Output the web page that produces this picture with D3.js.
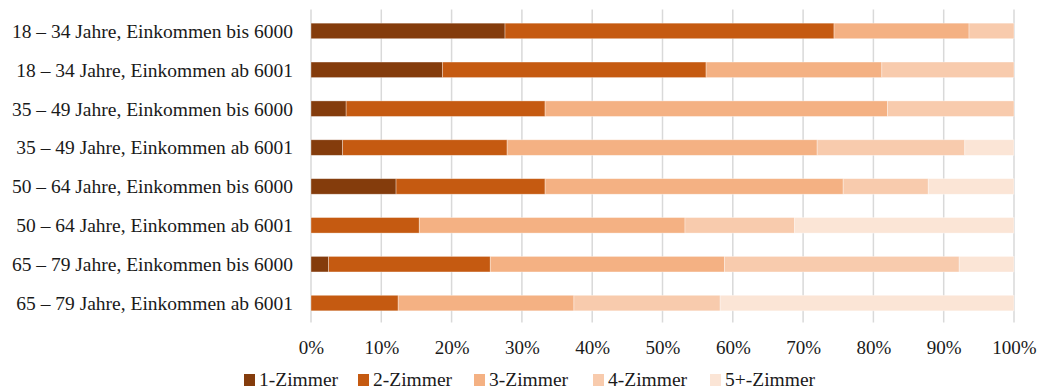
<!DOCTYPE html>
<html>
<head>
<meta charset="utf-8">
<script src="https://cdn.jsdelivr.net/npm/d3@7"></script>
<style>
  body { margin: 0; background: #fff; }
  svg text { font-family: "Liberation Serif", "Times New Roman", serif; fill: #1a1a1a; }
</style>
</head>
<body>
<svg id="chart" width="1038" height="391"></svg>
<script>
// Wohnungsgröße nach Altersgruppe und Einkommen (Anteile in %)
const categories = [
  "18 – 34 Jahre, Einkommen bis 6000",
  "18 – 34 Jahre, Einkommen ab 6001",
  "35 – 49 Jahre, Einkommen bis 6000",
  "35 – 49 Jahre, Einkommen ab 6001",
  "50 – 64 Jahre, Einkommen bis 6000",
  "50 – 64 Jahre, Einkommen ab 6001",
  "65 – 79 Jahre, Einkommen bis 6000",
  "65 – 79 Jahre, Einkommen ab 6001"
];
const seriesNames = ["1-Zimmer", "2-Zimmer", "3-Zimmer", "4-Zimmer", "5+-Zimmer"];
const zimmer1 = [27.6, 18.7, 5.0, 4.5, 12.1, 0.0, 2.5, 0.0];
const zimmer2 = [46.8, 37.5, 28.3, 23.4, 21.2, 15.4, 23.0, 12.4];
const zimmer3 = [19.2, 25.0, 48.7, 44.1, 42.4, 37.8, 33.3, 25.0];
const zimmer4 = [6.4, 18.8, 18.0, 21.0, 12.1, 15.6, 33.4, 20.8];
const zimmer5 = [0.0, 0.0, 0.0, 7.0, 12.2, 31.2, 7.8, 41.8];
const tickValues = [0, 0.1, 0.2, 0.3, 0.4, 0.5, 0.6, 0.7, 0.8, 0.9, 1.0];
const colors = ["#843c0c", "#c55a11", "#f4b183", "#f8cbad", "#fbe5d6"];

const seriesValues = [zimmer1, zimmer2, zimmer3, zimmer4, zimmer5];
const rows = categories.map((c, i) => {
  const r = { cat: c };
  seriesNames.forEach((s, j) => r[s] = seriesValues[j][i]);
  return r;
});

const svg = d3.select("#chart");
const margin = { left: 311, right: 24, top: 11.5, bottom: 68.5 };
const W = 1038, H = 391;

const x = d3.scaleLinear().domain([0, 100]).range([margin.left, W - margin.right]);
const y = d3.scaleBand().domain(categories).range([margin.top, H - margin.bottom]).paddingInner(0.6).paddingOuter(0.3);

// vertical gridlines
svg.append("g")
  .selectAll("line")
  .data(tickValues)
  .join("line")
  .attr("x1", d => x(d * 100)).attr("x2", d => x(d * 100))
  .attr("y1", margin.top - 2).attr("y2", H - margin.bottom)
  .attr("stroke", "#d9d9d9").attr("stroke-width", 1.5);

// stacked bars
const stacked = d3.stack().keys(seriesNames)(rows);
svg.append("g")
  .selectAll("g")
  .data(stacked)
  .join("g")
  .attr("fill", (d, i) => colors[i])
  .selectAll("rect")
  .data(d => d.filter(p => p[1] - p[0] > 0))
  .join("rect")
  .attr("x", d => x(d[0]))
  .attr("width", d => x(d[1]) - x(d[0]))
  .attr("y", d => y(d.data.cat))
  .attr("height", y.bandwidth())
  .attr("stroke", "#ffffff").attr("stroke-opacity", 0.45).attr("stroke-width", 0.75);

// category labels
svg.append("g")
  .selectAll("text")
  .data(categories)
  .join("text")
  .attr("x", margin.left - 18)
  .attr("y", d => y(d) + y.bandwidth() / 2)
  .attr("dy", "0.35em")
  .attr("text-anchor", "end")
  .attr("font-size", 19.5)
  .text(d => d);

// percentage axis
const axis = d3.axisBottom(d3.scaleLinear().domain([0, 1]).range([margin.left, W - margin.right]))
  .tickValues(tickValues).tickFormat(d3.format(".0%")).tickSize(0).tickPadding(0);
const ax = svg.append("g")
  .attr("transform", `translate(0,${H - margin.bottom})`)
  .call(axis);
ax.select(".domain").remove();
ax.selectAll("text")
  .attr("y", 31).attr("dy", null)
  .attr("font-size", 19).attr("font-family", "Liberation Serif").attr("fill", "#1a1a1a");

// legend
const legendX = [244, 358, 474, 593, 710];
const lg = svg.append("g").attr("transform", "translate(0,386)");
const items = lg.selectAll("g").data(seriesNames).join("g")
  .attr("transform", (d, i) => `translate(${legendX[i]},0)`);
items.append("rect").attr("x", 0).attr("y", -12).attr("width", 11).attr("height", 12)
  .attr("fill", (d, i) => colors[i]);
items.append("text").attr("x", 15).attr("y", 0).attr("font-size", 19.5).text(d => d);
</script>
</body>
</html>
